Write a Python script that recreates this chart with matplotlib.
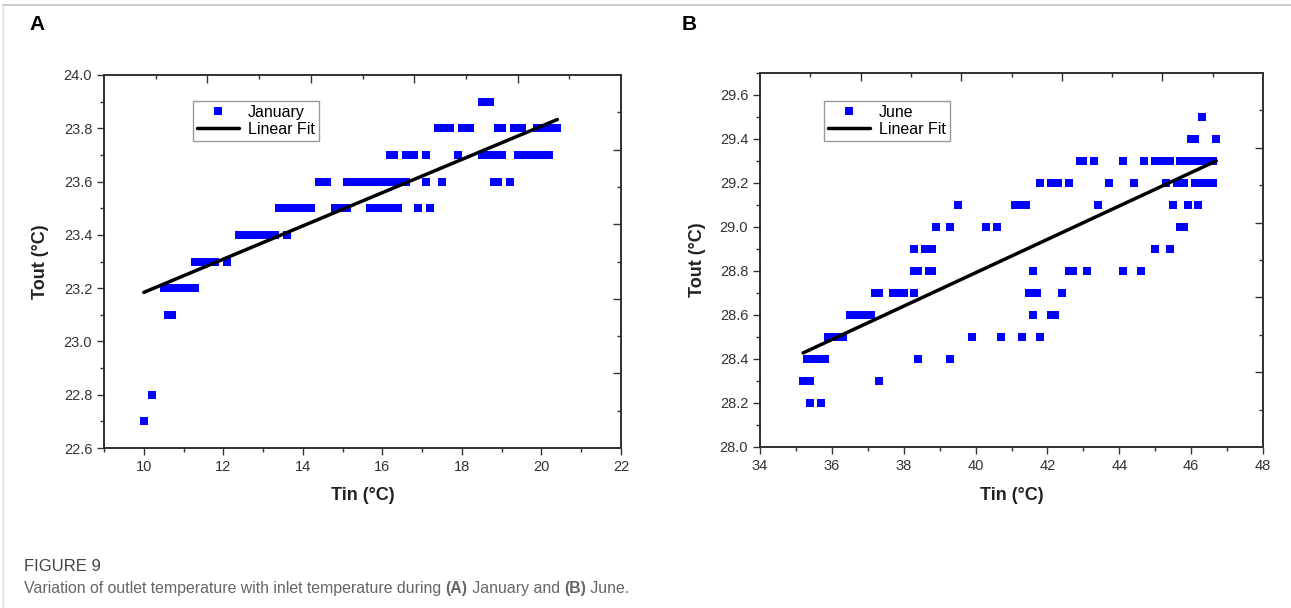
import numpy as np
import matplotlib.pyplot as plt
from matplotlib.lines import Line2D
from matplotlib.ticker import MultipleLocator

plt.rcParams.update({
    "font.family": ["Liberation Sans", "DejaVu Sans"],
    "axes.edgecolor": "#333333",
    "axes.linewidth": 1.1,
    "xtick.color": "#333333",
    "ytick.color": "#333333",
    "xtick.labelcolor": "#333333",
    "ytick.labelcolor": "#333333",
    "xtick.labelsize": 10.5,
    "ytick.labelsize": 10.5,
})

# --- January (panel A): Tout levels and the Tin readings at each level ---
jan_levels = [22.7, 22.8, 23.1, 23.2, 23.3, 23.4, 23.5, 23.6, 23.7, 23.8, 23.9]
jan_tin_at_level = [
    [10.0],
    [10.2],
    [10.6, 10.7],
    [10.5, 10.6, 10.7, 10.8, 10.9, 11.0, 11.1, 11.2, 11.3],
    [11.3, 11.4, 11.5, 11.6, 11.7, 11.8, 12.1],
    [12.4, 12.5, 12.6, 12.7, 12.8, 12.9, 13.0, 13.1, 13.2, 13.3, 13.6],
    [13.4, 13.5, 13.6, 13.7, 13.8, 13.9, 14.0, 14.1, 14.2, 14.8, 14.9, 15.0, 15.1,
     15.7, 15.8, 15.9, 16.0, 16.1, 16.2, 16.3, 16.4, 16.9, 17.2],
    [14.4, 14.5, 14.6, 15.1, 15.2, 15.3, 15.4, 15.5, 15.6, 15.7, 15.8, 15.9, 16.0,
     16.1, 16.2, 16.3, 16.4, 16.5, 16.6, 17.1, 17.5, 18.8, 18.9, 19.2],
    [16.2, 16.3, 16.6, 16.7, 16.8, 17.1, 17.9, 18.5, 18.6, 18.7, 18.8, 18.9, 19.0,
     19.4, 19.5, 19.6, 19.7, 19.8, 19.9, 20.0, 20.1, 20.2],
    [17.4, 17.5, 17.6, 17.7, 18.0, 18.1, 18.2, 18.9, 19.0, 19.3, 19.4, 19.5,
     19.9, 20.0, 20.1, 20.2, 20.3, 20.4],
    [18.5, 18.6, 18.7],
]
jan_fit = (22.56, 0.0624)   # intercept, slope of the linear fit

# --- June (panel B) ---
jun_levels = [28.2, 28.3, 28.4, 28.5, 28.6, 28.7, 28.8, 28.9, 29.0, 29.1, 29.2, 29.3, 29.4, 29.5]
jun_tin_at_level = [
    [35.4, 35.7],
    [35.2, 35.3, 35.4, 37.3],
    [35.3, 35.4, 35.5, 35.6, 35.7, 35.8, 38.4, 39.3],
    [35.9, 36.0, 36.1, 36.2, 36.3, 39.9, 40.7, 41.3, 41.8],
    [36.5, 36.6, 36.7, 36.8, 36.9, 37.0, 37.1, 41.6, 42.1, 42.2],
    [37.2, 37.3, 37.7, 37.8, 37.9, 38.0, 38.3, 41.5, 41.6, 41.7, 42.4],
    [38.3, 38.4, 38.7, 38.8, 41.6, 42.6, 42.7, 43.1, 44.1, 44.6],
    [38.3, 38.6, 38.7, 38.8, 45.0, 45.4],
    [38.9, 39.3, 40.3, 40.6, 45.7, 45.8],
    [39.5, 41.1, 41.2, 41.3, 41.4, 43.4, 45.5, 45.9, 46.2],
    [41.8, 42.1, 42.2, 42.3, 42.6, 43.7, 44.4, 45.3, 45.6, 45.7, 45.8,
     46.1, 46.2, 46.3, 46.4, 46.5, 46.6],
    [42.9, 43.0, 43.3, 44.1, 44.7, 45.0, 45.1, 45.2, 45.3, 45.4,
     45.7, 45.8, 45.9, 46.0, 46.1, 46.2, 46.3, 46.4, 46.5, 46.6],
    [46.0, 46.1, 46.7],
    [46.3],
]
jun_fit = (25.756, 0.0759)


def flatten(levels, tin_lists):
    tin = np.concatenate([np.array(v, dtype=float) for v in tin_lists])
    tout = np.concatenate([np.full(len(v), lv) for lv, v in zip(levels, tin_lists)])
    return tin, tout


def frame_ticks(ax):
    # Origin-style linked top/right axes: inward ticks at tenths of the frame
    top = ax.twiny()
    top.set_xlim(0, 1)
    top.set_xticks([0.2, 0.4, 0.6, 0.8])
    top.set_xticks([0.1, 0.3, 0.5, 0.7, 0.9], minor=True)
    top.tick_params(axis='x', which='both', direction='in', labeltop=False,
                    color='#333333')
    top.tick_params(axis='x', which='major', length=5.5, width=1.0)
    top.tick_params(axis='x', which='minor', length=3, width=1.0)
    right = ax.twinx()
    right.set_ylim(0, 1)
    right.set_yticks([0.2, 0.4, 0.6, 0.8])
    right.set_yticks([0.1, 0.3, 0.5, 0.7, 0.9], minor=True)
    right.tick_params(axis='y', which='both', direction='in', labelright=False,
                      color='#333333')
    right.tick_params(axis='y', which='major', length=5.5, width=1.0)
    right.tick_params(axis='y', which='minor', length=3, width=1.0)


def draw_panel(ax, levels, tin_lists, fit, label, xlim, ylim, xmaj, ymaj):
    tin, tout = flatten(levels, tin_lists)
    ax.plot(tin, tout, linestyle='none', marker='s', markersize=5.8,
            color='#0000ff', markeredgewidth=0, label=label, zorder=2)
    xf = np.array([tin.min(), tin.max()])
    ax.plot(xf, fit[0] + fit[1] * xf, color='black', lw=2.5,
            solid_capstyle='round', label='Linear Fit', zorder=3)
    ax.set_xlim(*xlim)
    ax.set_ylim(*ylim)
    ax.xaxis.set_major_locator(MultipleLocator(xmaj))
    ax.xaxis.set_minor_locator(MultipleLocator(xmaj / 2))
    ax.yaxis.set_major_locator(MultipleLocator(ymaj))
    ax.yaxis.set_minor_locator(MultipleLocator(ymaj / 2))
    ax.yaxis.set_major_formatter(plt.FormatStrFormatter('%.1f'))
    ax.tick_params(which='both', direction='out', top=False, right=False, width=1.0)
    ax.tick_params(which='major', length=5)
    ax.tick_params(which='minor', length=3)
    ax.set_xlabel("Tin (°C)", fontsize=13, fontweight='bold', color='#222222')
    ax.set_ylabel("Tout (°C)", fontsize=13, fontweight='bold', color='#222222')
    leg = ax.legend(loc='upper left', fontsize=11.5, fancybox=False,
                    edgecolor='#999999', framealpha=1, handlelength=2.6,
                    handletextpad=0.6, borderpad=0.25, labelspacing=0.1,
                    borderaxespad=0)
    leg.get_frame().set_linewidth(1.0)
    return leg


W, H = 1291, 608
fig = plt.figure(figsize=(W / 100, H / 100), dpi=100)

axA = fig.add_axes([104 / W, 1 - 448 / H, (621 - 104) / W, (448 - 75) / H])
axB = fig.add_axes([760 / W, 1 - 447 / H, (1263 - 760) / W, (447 - 73) / H])

legA = draw_panel(axA, jan_levels, jan_tin_at_level, jan_fit, 'January',
                  (9, 22), (22.6, 24.0), 2, 0.2)
legB = draw_panel(axB, jun_levels, jun_tin_at_level, jun_fit, 'June',
                  (34, 48), (28.0, 29.7), 2, 0.2)
legA.set_bbox_to_anchor(((193 - 104) / 517, (448 - 101) / 373), transform=axA.transAxes)
legB.set_bbox_to_anchor(((824 - 760) / 503, (447 - 101) / 374), transform=axB.transAxes)

axA.yaxis.set_label_coords(-0.106, 0.5)
axB.yaxis.set_label_coords(-0.107, 0.5)
axA.xaxis.set_label_coords(0.5, -0.105)
axB.xaxis.set_label_coords(0.5, -0.107)

frame_ticks(axA)
frame_ticks(axB)

# panel letters
fig.text(29 / W, 1 - 30 / H, "A", fontsize=15, fontweight='bold', color='black')
fig.text(682 / W, 1 - 30 / H, "B", fontsize=15, fontweight='bold', color='black')

# outer frame lines (page border)
fig.add_artist(Line2D([3 / W, 1], [1 - 5 / H, 1 - 5 / H], color='#cccccc', lw=1.5))
fig.add_artist(Line2D([3 / W, 3 / W], [0, 1 - 5 / H], color='#dddddd', lw=1.0))

# caption
cap_font = ["Liberation Sans Narrow", "Liberation Sans", "DejaVu Sans"]
fig.text(24 / W, 1 - 571 / H, "FIGURE 9", fontsize=12, color='#444444',
         family=cap_font)
pieces = [("Variation of outlet temperature with inlet temperature during ", 'normal'),
          ("(A)", 'bold'), (" January and ", 'normal'), ("(B)", 'bold'), (" June.", 'normal')]
renderer = fig.canvas.get_renderer()
x = 24
for txt, wt in pieces:
    t = fig.text(x / W, 1 - 593 / H, txt, fontsize=11.4, color='#666666',
                 fontweight=wt, family=cap_font)
    x += t.get_window_extent(renderer).width

fig.savefig("out.png", dpi=100)
